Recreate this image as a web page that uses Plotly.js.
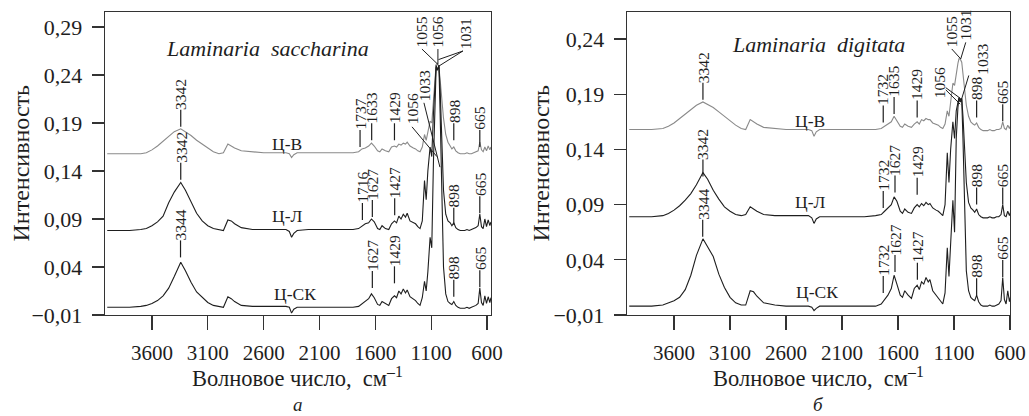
<!DOCTYPE html>
<html><head><meta charset="utf-8">
<script src="https://cdn.plot.ly/plotly-3.0.1.min.js"></script>
<style>body{margin:0;background:#fff}</style>
</head><body><div id="chart" style="width:1029px;height:416px"></div>
<script>
// Shared wavenumber grid, cm^-1
const wavenumber = [4000,3900,3800,3700,3650,3600,3550,3500,3450,3400,
 3342,3300,3250,3200,3150,3100,3050,3000,2960,2920,
 2890,2860,2800,2700,2600,2500,2400,2370,2350,2330,
 2300,2200,2100,2000,1900,1800,1750,1720,1690,1660,
 1635,1610,1580,1560,1540,1510,1480,1455,1429,1410,
 1390,1370,1350,1330,1315,1290,1260,1240,1220,1200,
 1180,1160,1145,1130,1110,1095,1080,1065,1056,1045,
 1031,1020,1005,990,970,950,930,915,898,880,
 860,840,820,800,780,760,740,720,700,680,
 665,650,635,620,605,590,575,565];

// (a) Laminaria saccharina
const sacchV = [0.158,0.158,0.158,0.158,0.159,0.162,0.166,0.171,0.177,0.181,
 0.184,0.181,0.177,0.172,0.168,0.164,0.160,0.158,0.159,0.168,
 0.166,0.164,0.161,0.160,0.159,0.159,0.159,0.158,0.154,0.157,
 0.159,0.159,0.159,0.159,0.159,0.159,0.160,0.163,0.164,0.166,
 0.169,0.166,0.161,0.160,0.163,0.161,0.160,0.165,0.166,0.165,
 0.168,0.167,0.169,0.168,0.170,0.166,0.164,0.163,0.161,0.160,
 0.165,0.178,0.172,0.180,0.192,0.190,0.215,0.240,0.251,0.252,
 0.248,0.235,0.215,0.195,0.178,0.170,0.166,0.163,0.165,0.161,
 0.159,0.158,0.158,0.158,0.159,0.158,0.158,0.159,0.160,0.161,
 0.170,0.162,0.160,0.165,0.161,0.166,0.162,0.165];
const sacchL = [0.078,0.078,0.078,0.079,0.080,0.083,0.087,0.093,0.107,0.118,
 0.128,0.120,0.108,0.096,0.088,0.083,0.080,0.079,0.078,0.089,
 0.088,0.085,0.081,0.079,0.079,0.079,0.079,0.077,0.071,0.075,
 0.078,0.079,0.079,0.079,0.079,0.079,0.080,0.083,0.085,0.086,
 0.090,0.087,0.080,0.079,0.083,0.080,0.079,0.085,0.088,0.086,
 0.093,0.090,0.095,0.092,0.096,0.088,0.086,0.085,0.082,0.080,
 0.088,0.130,0.110,0.140,0.165,0.155,0.200,0.235,0.250,0.245,
 0.250,0.225,0.170,0.120,0.095,0.088,0.086,0.083,0.086,0.081,
 0.079,0.078,0.078,0.078,0.079,0.078,0.079,0.080,0.081,0.083,
 0.095,0.082,0.080,0.090,0.082,0.089,0.083,0.087];
const sacchSK = [-0.002,-0.002,-0.002,-0.001,0.000,0.002,0.005,0.010,0.018,0.030,
 0.045,0.036,0.024,0.014,0.008,0.003,0.000,-0.001,-0.002,0.009,
 0.007,0.004,0.000,-0.001,-0.001,-0.001,-0.001,-0.002,-0.008,-0.004,
 -0.002,-0.002,-0.002,-0.002,-0.002,-0.002,-0.001,0.002,0.005,0.007,
 0.012,0.008,0.001,0.000,0.004,0.002,0.000,0.007,0.010,0.008,
 0.015,0.012,0.017,0.013,0.016,0.009,0.007,0.005,0.002,0.000,
 0.008,0.025,0.015,0.035,0.071,0.060,0.150,0.220,0.248,0.245,
 0.250,0.200,0.110,0.040,0.012,0.004,0.002,0.001,0.004,0.000,
 -0.002,-0.003,-0.003,-0.003,-0.002,-0.003,-0.002,-0.001,0.000,0.002,
 0.018,0.003,0.000,0.010,0.002,0.009,0.003,0.008];

// (б) Laminaria digitata
const digV = [0.158,0.158,0.158,0.159,0.161,0.164,0.168,0.172,0.176,0.180,
 0.183,0.181,0.178,0.174,0.170,0.166,0.162,0.159,0.158,0.167,
 0.165,0.163,0.160,0.159,0.158,0.158,0.158,0.157,0.152,0.156,
 0.158,0.158,0.158,0.158,0.158,0.158,0.159,0.161,0.163,0.165,
 0.170,0.166,0.161,0.160,0.163,0.161,0.160,0.163,0.165,0.163,
 0.167,0.166,0.168,0.167,0.167,0.164,0.163,0.162,0.160,0.159,
 0.163,0.175,0.170,0.182,0.200,0.198,0.210,0.218,0.222,0.222,
 0.219,0.210,0.195,0.180,0.170,0.165,0.163,0.162,0.164,0.160,
 0.158,0.157,0.157,0.157,0.158,0.157,0.157,0.158,0.158,0.159,
 0.165,0.159,0.158,0.162,0.159,0.163,0.160,0.162];
const digL = [0.079,0.079,0.079,0.080,0.082,0.085,0.089,0.094,0.100,0.108,
 0.119,0.113,0.103,0.095,0.088,0.084,0.081,0.080,0.081,0.088,
 0.086,0.084,0.081,0.080,0.080,0.080,0.080,0.078,0.073,0.077,
 0.079,0.079,0.079,0.079,0.079,0.080,0.081,0.084,0.087,0.090,
 0.097,0.093,0.084,0.082,0.086,0.083,0.082,0.087,0.090,0.088,
 0.091,0.089,0.092,0.090,0.091,0.087,0.085,0.084,0.082,0.080,
 0.090,0.137,0.110,0.140,0.165,0.150,0.175,0.183,0.187,0.185,
 0.186,0.170,0.140,0.110,0.092,0.087,0.085,0.083,0.086,0.081,
 0.079,0.078,0.078,0.078,0.079,0.078,0.078,0.079,0.079,0.081,
 0.090,0.080,0.079,0.084,0.080,0.085,0.081,0.083];
const digSK = [-0.002,-0.002,-0.002,-0.001,0.001,0.003,0.006,0.013,0.026,0.044,
 0.059,0.052,0.043,0.027,0.015,0.006,0.001,-0.001,-0.001,0.012,
 0.011,0.007,0.001,-0.001,-0.002,-0.002,-0.002,-0.003,-0.006,-0.004,
 -0.002,-0.002,-0.002,-0.002,-0.002,-0.002,0.000,0.004,0.008,0.014,
 0.026,0.018,0.008,0.006,0.012,0.008,0.005,0.014,0.017,0.013,
 0.020,0.018,0.024,0.020,0.022,0.012,0.008,0.006,0.003,0.000,
 0.010,0.051,0.025,0.060,0.094,0.065,0.150,0.178,0.186,0.183,
 0.186,0.150,0.080,0.030,0.012,0.006,0.004,0.003,0.008,0.002,
 -0.001,-0.002,-0.002,-0.002,-0.001,-0.002,-0.002,-0.001,0.000,0.003,
 0.024,0.004,0.000,0.012,0.002,0.009,0.003,0.006];

// Series names and panel titles
const seriesNames = ['Ц-В','Ц-Л','Ц-СК'];
const seriesNameX = [2390, 2390, 2320];
const sacchNameY = [0.168, 0.093, 0.012];
const digNameY = [0.1655, 0.092, 0.011];
const panelTitles = ['Laminaria\u00a0\u00a0saccharina', 'Laminaria\u00a0\u00a0digitata'];
const panelLetters = ['а', 'б'];
const xTitle = 'Волновое число,\u00a0 см<sup>–1</sup>';
const yTitle = 'Интенсивность';

// Peak labels with a short tick: wavenumber label and value at tick bottom
const sacchPeakText = ['3342','1737','1633','1429','898','665',
                       '3342','1716','1627','1427','898','665',
                       '3344','1627','1429','898','665'];
const sacchPeakX = [3342,1737,1633,1429,898,665, 3342,1716,1627,1427,898,665, 3344,1627,1429,898,665];
const sacchPeakY = [0.186,0.165,0.172,0.172,0.172,0.165, 0.131,0.089,0.092,0.094,0.084,0.096, 0.050,0.018,0.023,0.009,0.019];
const digPeakText = ['3342','1732','1635','1429','898','665',
                     '3342','1732','1627','1429','898','665',
                     '3344','1732','1627','1427','898','665'];
const digPeakX = [3342,1732,1635,1429,898,665, 3342,1732,1627,1429,898,665, 3344,1732,1627,1427,898,665];
const digPeakY = [0.185,0.1645,0.172,0.169,0.169,0.1655, 0.1155,0.087,0.101,0.099,0.090,0.090, 0.061,0.010,0.029,0.022,0.008,0.0245];

// Labels with leader lines
const sacchLeadText = ['1055','1056','1031','1056','1033'];
const sacchLeadX = [1183,1040,790,1272,1165];
const sacchLeadY = [0.268,0.268,0.266,0.187,0.212];
const sacchLineFrom = [[1183,0.267],[1040,0.267],[816,0.265],[816,0.265],[1272,0.186],[1165,0.211]];
const sacchLineTo = [[1040,0.251],[1040,0.251],[1035,0.256],[1035,0.249],[1049,0.155],[1022,0.144]];
const digLeadText = ['1055','1031','1056','1033'];
const digLeadX = [1120,995,1228,843];
const digLeadY = [0.232,0.238,0.1855,0.207];
const digLineFrom = [[1120,0.231],[995,0.237],[1174,0.196],[1174,0.194],[968,0.207]];
const digLineTo = [[1040,0.222],[1040,0.222],[1040,0.186],[1045,0.181],[1040,0.183]];

const FONT = 'Liberation Serif, Times New Roman, serif';
const GREY = '#8a8a8a', BLACK = '#1e1e1e', AX = '#333';
const DASH = 17;

function trace(y, color, xa, ya) {
  return {x: wavenumber, y: y, type: 'scatter', mode: 'lines', xaxis: xa, yaxis: ya,
    line: {color: color, width: 1.1}, hoverinfo: 'skip', showlegend: false};
}
const data = [
  trace(sacchV, GREY, 'x', 'y'), trace(sacchL, BLACK, 'x', 'y'), trace(sacchSK, BLACK, 'x', 'y'),
  trace(digV, GREY, 'x2', 'y2'), trace(digL, BLACK, 'x2', 'y2'), trace(digSK, BLACK, 'x2', 'y2')
];

const annotations = [];
const shapes = [];
function rotLabel(t, x, y, xr, yr, shift) {
  annotations.push({x: x, y: y, xref: xr, yref: yr, yshift: shift,
    text: t, textangle: -90, showarrow: false, xanchor: 'center', yanchor: 'bottom',
    borderpad: 0, font: {family: FONT, size: 15.5, color: BLACK}});
}
function peakLabels(texts, xs, ys, xr, yr) {
  texts.forEach((t, i) => {
    shapes.push({type: 'line', xref: xr, yref: yr, ysizemode: 'pixel', yanchor: ys[i],
      x0: xs[i], x1: xs[i], y0: 0, y1: DASH, line: {color: BLACK, width: 1.2}});
    rotLabel(t, xs[i], ys[i], xr, yr, DASH - 1);
  });
}
function leadLabels(texts, xs, ys, from, to, xr, yr) {
  texts.forEach((t, i) => rotLabel(t, xs[i], ys[i], xr, yr, 0));
  from.forEach((f, i) => shapes.push({type: 'line', xref: xr, yref: yr,
    x0: f[0], y0: f[1], x1: to[i][0], y1: to[i][1], line: {color: BLACK, width: 1}}));
}
peakLabels(sacchPeakText, sacchPeakX, sacchPeakY, 'x', 'y');
peakLabels(digPeakText, digPeakX, digPeakY, 'x2', 'y2');
leadLabels(sacchLeadText, sacchLeadX, sacchLeadY, sacchLineFrom, sacchLineTo, 'x', 'y');
leadLabels(digLeadText, digLeadX, digLeadY, digLineFrom, digLineTo, 'x2', 'y2');

seriesNames.forEach((n, i) => {
  annotations.push({x: seriesNameX[i], y: sacchNameY[i], xref: 'x', yref: 'y', text: n, showarrow: false,
    font: {family: FONT, size: 17.5, color: BLACK}});
  annotations.push({x: seriesNameX[i], y: digNameY[i], xref: 'x2', yref: 'y2', text: n, showarrow: false,
    font: {family: FONT, size: 17.5, color: BLACK}});
});

const domains = [[0, 0.4265], [0.5768, 1]];
panelTitles.forEach((t, i) => {
  const xr = i === 0 ? 'x domain' : 'x2 domain';
  annotations.push({x: i === 0 ? 0.42 : 0.5, y: i === 0 ? 0.928 : 0.94, xref: xr, yref: 'paper',
    text: '<i>' + t + '</i>', showarrow: false, font: {family: FONT, size: 22, color: BLACK}});
  annotations.push({x: 0.5, y: -0.254, xref: xr, yref: 'paper', text: xTitle, borderpad: 0,
    showarrow: false, yanchor: 'bottom', font: {family: FONT, size: 22.5, color: BLACK}});
  annotations.push({x: 0.5, y: -0.333, xref: xr, yref: 'paper', text: '<i>' + panelLetters[i] + '</i>',
    borderpad: 0, showarrow: false, yanchor: 'bottom', font: {family: FONT, size: 19, color: BLACK}});
});
[-0.0939, 0.4807].forEach(px => annotations.push({x: px, y: 0.5, xref: 'paper', yref: 'paper',
  text: yTitle, textangle: -90, showarrow: false, xanchor: 'center', yanchor: 'middle',
  font: {family: FONT, size: 24, color: BLACK}}));

const xBase = {ticks: 'outside', ticklen: 14, tickwidth: 1.3, tickcolor: AX, showline: true, mirror: true,
  linecolor: AX, linewidth: 1.3, showgrid: false, zeroline: false, tick0: 600, dtick: 500,
  ticklabelstandoff: 4, tickfont: {family: FONT, size: 21, color: BLACK}};
const yBase = {ticks: 'outside', ticklen: 12, tickwidth: 1.3, tickcolor: AX, showline: true, mirror: true,
  linecolor: AX, linewidth: 1.3, showgrid: false, zeroline: false, tick0: -0.01, dtick: 0.05,
  tickformat: '.2f', ticklabelstandoff: 5, tickfont: {family: FONT, size: 22, color: BLACK}};

const layout = {
  width: 1029, height: 416, margin: {l: 105, r: 19, t: 12, b: 101},
  paper_bgcolor: '#fff', plot_bgcolor: '#fff', separators: ',.',
  font: {family: FONT, color: BLACK},
  xaxis: Object.assign({}, xBase, {domain: domains[0], range: [4020, 565], anchor: 'y'}),
  yaxis: Object.assign({}, yBase, {range: [-0.01, 0.3056], anchor: 'x'}),
  xaxis2: Object.assign({}, xBase, {domain: domains[1], range: [4020, 600], anchor: 'y2'}),
  yaxis2: Object.assign({}, yBase, {range: [-0.01, 0.2645], anchor: 'x2'}),
  annotations: annotations, shapes: shapes
};
Plotly.newPlot('chart', data, layout, {displayModeBar: false, staticPlot: true});
</script></body></html>
